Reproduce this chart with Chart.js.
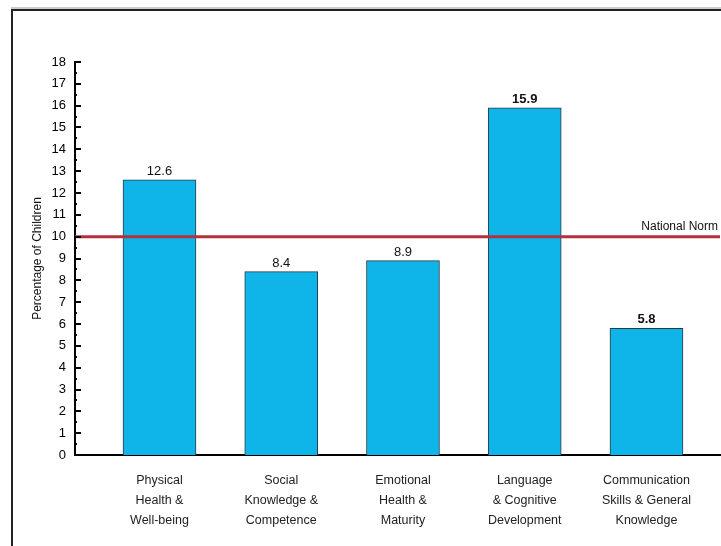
<!DOCTYPE html>
<html>
<head>
<meta charset="utf-8">
<script src="https://cdn.jsdelivr.net/npm/chart.js@4.4.0/dist/chart.umd.min.js"></script>
<style>
  body { margin: 0; background: #fff; }
  #wrap { position: relative; width: 721px; height: 546px; }
  #frame {
    position: absolute; left: 11px; top: 9px; right: -4px; bottom: -4px;
    border-top: 2px solid #222; border-left: 2px solid #222;
    box-shadow: 0 -2px 0 #ccc;
    pointer-events: none;
  }
  canvas { position: absolute; left: 0; top: 0; }
</style>
</head>
<body>
<div id="wrap">
  <canvas id="myChart" width="721" height="546"></canvas>
  <div id="frame"></div>
</div>
<script>
// domains of child development
const categories = [
  ["Physical", "Health &", "Well-being"],
  ["Social", "Knowledge &", "Competence"],
  ["Emotional", "Health &", "Maturity"],
  ["Language", "& Cognitive", "Development"],
  ["Communication", "Skills & General", "Knowledge"]
];
const values = [12.6, 8.4, 8.9, 15.9, 5.8];
const nationalNorm = 10;
const yTicks = [0, 1, 2, 3, 4, 5, 6, 7, 8, 9, 10, 11, 12, 13, 14, 15, 16, 17, 18];

const font = "'Liberation Sans', Arial, sans-serif";

// value labels above bars + national norm line + inner tick marks
const extras = {
  id: "extras",
  afterDatasetsDraw(chart) {
    const ctx = chart.ctx;
    const y = chart.scales.y;
    const area = chart.chartArea;

    // national norm line
    const ny = y.getPixelForValue(nationalNorm);
    ctx.save();
    ctx.strokeStyle = "#b3303d";
    ctx.lineWidth = 3;
    ctx.beginPath();
    ctx.moveTo(area.left, ny);
    ctx.lineTo(area.right, ny);
    ctx.stroke();
    ctx.fillStyle = "#111";
    ctx.font = "12px " + font;
    ctx.textAlign = "right";
    ctx.textBaseline = "alphabetic";
    ctx.fillText("National Norm", area.right - 2, ny - 7);

    // value labels
    const meta = chart.getDatasetMeta(0);
    meta.data.forEach((bar, i) => {
      ctx.font = (i >= 3 ? "bold " : "") + "13px " + font;
      ctx.textAlign = "center";
      ctx.fillText(values[i].toFixed(1), bar.x, bar.y - 5);
    });

    // tick marks pointing into the plot, minor at halves
    ctx.strokeStyle = "#000";
    ctx.lineWidth = 2;
    for (let v = 0; v <= 18; v += 0.5) {
      const py = Math.round(y.getPixelForValue(v));
      const len = Number.isInteger(v) ? 6 : 2;
      ctx.beginPath();
      ctx.moveTo(area.left, py);
      ctx.lineTo(area.left + len, py);
      ctx.stroke();
    }
    ctx.restore();
  }
};

const data = {
  datasets: [
    {
      label: "Percentage of Children",
      data: values.map((v, i) => ({ x: i + 1, y: v })),
      backgroundColor: "#0fb5e9",
      borderColor: "#2a3a44",
      borderWidth: 1,
      barThickness: 73,
    },
  ],
};

const config = {
  type: "bar",
  data: data,
  plugins: [extras],
  options: {
    responsive: false,
    animation: false,
    layout: { padding: { top: 62, right: 1, left: 0, bottom: 0 } },
    plugins: { legend: { display: false }, tooltip: { enabled: false } },
    scales: {
      x: {
        type: "linear",
        offset: false,
        min: 0.306,
        max: 5.604,
        grid: { display: false, offset: false },
        border: { display: true, color: "#000", width: 2 },
        afterBuildTicks: (scale) => {
          scale.ticks = categories.map((c, i) => ({ value: i + 1 }));
        },
        afterFit: (scale) => { scale.height = 91; },
        ticks: {
          color: "#222",
          font: { family: font, size: 12.5, lineHeight: 1.6 },
          padding: 8,
          maxRotation: 0,
          autoSkip: false,
          callback: (v) => categories[v - 1] || "",
        },
      },
      y: {
        min: 0,
        max: 18,
        grid: { display: false },
        border: { display: true, color: "#000", width: 2 },
        afterBuildTicks: (scale) => {
          scale.ticks = yTicks.map((v) => ({ value: v }));
        },
        afterFit: (scale) => { scale.width = 75; },
        ticks: {
          color: "#000",
          font: { family: font, size: 13 },
          padding: 1,
        },
        title: {
          display: true,
          text: "Percentage of Children",
          color: "#111",
          font: { family: font, size: 12 },
          padding: { top: 30, bottom: 0 },
        },
      },
    },
  },
};

new Chart(document.getElementById("myChart"), config);
</script>
</body>
</html>
